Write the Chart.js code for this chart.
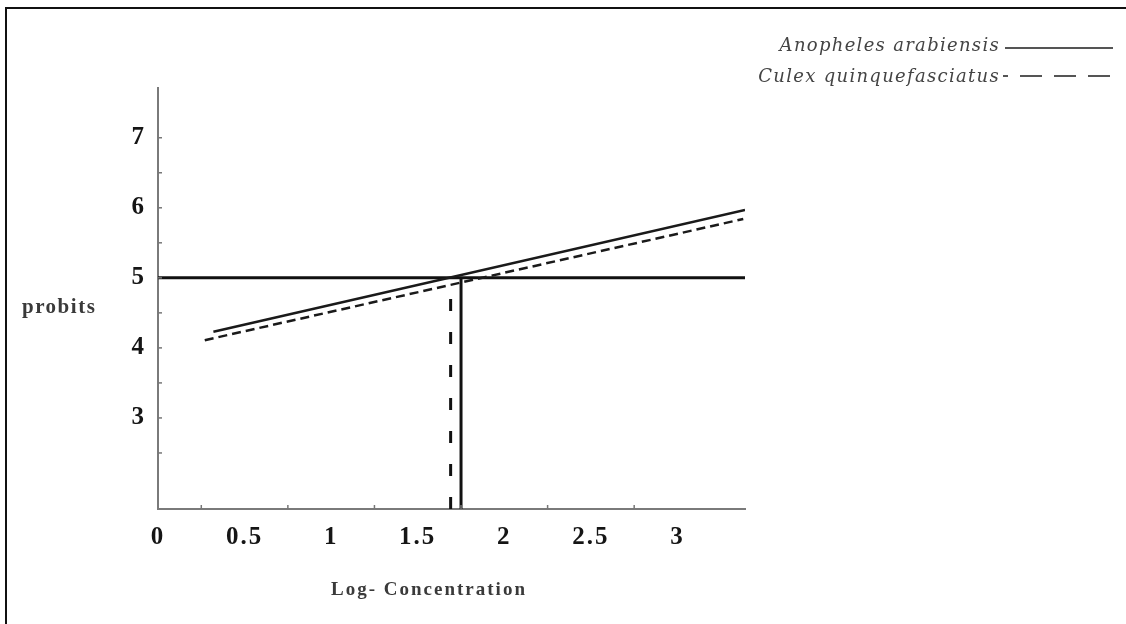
<!DOCTYPE html>
<html>
<head>
<meta charset="utf-8">
<script src="https://cdn.jsdelivr.net/npm/chart.js@4/dist/chart.umd.min.js"></script>
<style>
  html, body { margin: 0; padding: 0; background: #fff; }
  #wrap { position: relative; width: 1126px; height: 624px; }
</style>
</head>
<body>
<div id="wrap"><canvas id="chartJSContainer" width="1126" height="624"></canvas></div>
<script>
// values
var xTicks = [0, 0.5, 1, 1.5, 2, 2.5, 3]
var yTicks = [3, 4, 5, 6, 7]
var xMinor = [0.25, 0.75, 1.25, 1.75, 2.25, 2.75]
var yMinor = [2.5, 3.5, 4.5, 5.5, 6.5]
var xRange = [0, 3.39]
var yRange = [1.7, 7.71]

var anophelesX = [0.32, 3.39]
var anophelesY = [4.23, 5.97]
var culexX = [0.27, 3.38]
var culexY = [4.11, 5.84]

var probitMid = 5
var anophelesLC50 = 1.75
var culexLC50 = 1.69

var legendNames = ['Anopheles arabiensis', 'Culex quinquefasciatus']

const pts = (xs, ys) => xs.map((x, i) => ({x: x, y: ys[i]}))

// wider letter spacing for the tick numbers, like the stretched scan
const spacing = {
  id: 'spacing',
  beforeDraw(chart) { chart.ctx.letterSpacing = '2px' }
}

// axis decorations, titles, legend and page frame
const extras = {
  id: 'extras',
  afterDraw(chart) {
    const ctx = chart.ctx
    const xs = chart.scales.x, ys = chart.scales.y
    ctx.save()
    // minor ticks inside the axes
    ctx.strokeStyle = '#777'
    ctx.lineWidth = 1.5
    xMinor.forEach(v => {
      let p = xs.getPixelForValue(v)
      ctx.beginPath(); ctx.moveTo(p, ys.bottom); ctx.lineTo(p, ys.bottom - 4); ctx.stroke()
    })
    yMinor.concat(yTicks).forEach(v => {
      let p = ys.getPixelForValue(v)
      ctx.beginPath(); ctx.moveTo(xs.left, p); ctx.lineTo(xs.left + 4, p); ctx.stroke()
    })
    // axis titles
    ctx.fillStyle = '#3a3a3a'
    ctx.textBaseline = 'middle'
    ctx.textAlign = 'left'
    ctx.font = 'bold 21px "Liberation Serif"'
    ctx.letterSpacing = '1.5px'
    ctx.fillText('probits', 22, 308)
    ctx.font = 'bold 19px "Liberation Serif"'
    ctx.letterSpacing = '2px'
    ctx.textAlign = 'center'
    ctx.fillText('Log- Concentration', 429, 590)
    // legend: name then line sample
    ctx.font = 'italic 18px "DejaVu Serif"'
    ctx.letterSpacing = '1.3px'
    ctx.textAlign = 'right'
    ctx.fillStyle = '#444'
    ctx.fillText(legendNames[0], 1000, 46)
    ctx.fillText(legendNames[1], 1000, 77)
    ctx.letterSpacing = '0px'
    ctx.strokeStyle = '#555'
    ctx.lineWidth = 2
    ctx.beginPath(); ctx.moveTo(1005, 48); ctx.lineTo(1113, 48); ctx.stroke()
    ctx.setLineDash([22, 12])
    ctx.lineDashOffset = 17
    ctx.beginPath(); ctx.moveTo(1003, 76); ctx.lineTo(1122, 76); ctx.stroke()
    ctx.setLineDash([])
    // frame of the figure
    ctx.strokeStyle = '#111'
    ctx.lineWidth = 2
    ctx.beginPath(); ctx.moveTo(6, 624); ctx.lineTo(6, 8); ctx.lineTo(1126, 8); ctx.stroke()
    ctx.restore()
  }
}

var options = {
  type: 'scatter',
  data: {
    datasets: [
      {label: legendNames[0], data: pts(anophelesX, anophelesY), showLine: true,
        borderColor: '#1a1a1a', borderWidth: 2.5, pointRadius: 0},
      {label: legendNames[1], data: pts(culexX, culexY), showLine: true,
        borderColor: '#1a1a1a', borderWidth: 2.5, borderDash: [9, 5], pointRadius: 0},
      {label: 'probit 5', data: pts(xRange, [probitMid, probitMid]), showLine: true,
        borderColor: '#111', borderWidth: 3, pointRadius: 0},
      {label: 'LC50 An.', data: pts([anophelesLC50, anophelesLC50], [yRange[0], probitMid]), showLine: true,
        borderColor: '#111', borderWidth: 3, pointRadius: 0},
      {label: 'LC50 Cx.', data: pts([culexLC50, culexLC50], [yRange[0], probitMid]), showLine: true,
        borderColor: '#111', borderWidth: 3, borderDash: [12, 21], pointRadius: 0}
    ]
  },
  options: {
    responsive: false,
    animation: false,
    layout: {padding: {left: 0, top: 88, right: 381, bottom: 65}},
    plugins: {legend: {display: false}, tooltip: {enabled: false}},
    scales: {
      x: {
        type: 'linear', min: xRange[0], max: xRange[1],
        afterBuildTicks: (s) => { s.ticks = xTicks.map(v => ({value: v})) },
        afterFit: (s) => { s.height = 50 },
        grid: {display: false},
        border: {display: true, color: '#7a7a7a', width: 2},
        ticks: {color: '#151515', padding: 6, maxRotation: 0, autoSkip: false,
          callback: (v) => String(v),
          font: {family: 'Liberation Serif', weight: 'bold', size: 25}}
      },
      y: {
        type: 'linear', min: yRange[0], max: yRange[1],
        afterBuildTicks: (s) => { s.ticks = yTicks.map(v => ({value: v})) },
        afterFit: (s) => { s.width = 158 },
        grid: {display: false},
        border: {display: true, color: '#7a7a7a', width: 2},
        ticks: {color: '#151515', padding: 4, autoSkip: false,
          callback: (v) => String(v),
          font: {family: 'Liberation Serif', weight: 'bold', size: 25}}
      }
    }
  },
  plugins: [spacing, extras]
}

var ctx = document.getElementById('chartJSContainer').getContext('2d')
new Chart(ctx, options)
</script>
</body>
</html>
